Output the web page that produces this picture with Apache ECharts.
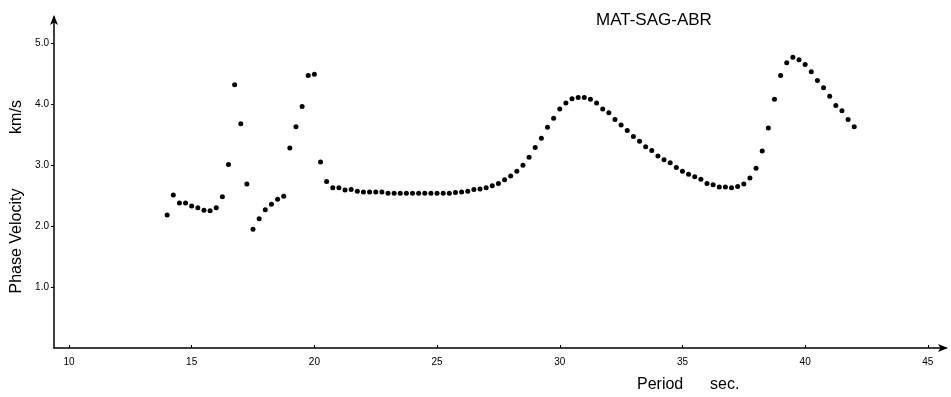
<!DOCTYPE html>
<html>
<head>
<meta charset="utf-8">
<script src="https://cdn.jsdelivr.net/npm/echarts@6/dist/echarts.min.js"></script>
<style>
  html, body { margin: 0; padding: 0; background: #fff; }
  #chart { width: 951px; height: 397px; }
</style>
</head>
<body>
<div id="chart"></div>
<script>
// station pair shown in the top right
const stationLabel = 'MAT-SAG-ABR';

// period (s) of each measured point
const periods = [
  14.00, 14.25, 14.50, 14.75, 15.00, 15.25, 15.50, 15.75, 16.00, 16.25,
  16.50, 16.75, 17.00, 17.25, 17.50, 17.75, 18.00, 18.25, 18.50, 18.75,
  19.00, 19.25, 19.50, 19.75, 20.00, 20.25, 20.50, 20.75, 21.00, 21.25,
  21.50, 21.75, 22.00, 22.25, 22.50, 22.75, 23.00, 23.25, 23.50, 23.75,
  24.00, 24.25, 24.50, 24.75, 25.00, 25.25, 25.50, 25.75, 26.00, 26.25,
  26.50, 26.75, 27.00, 27.25, 27.50, 27.75, 28.00, 28.25, 28.50, 28.75,
  29.00, 29.25, 29.50, 29.75, 30.00, 30.25, 30.50, 30.75, 31.00, 31.25,
  31.50, 31.75, 32.00, 32.25, 32.50, 32.75, 33.00, 33.25, 33.50, 33.75,
  34.00, 34.25, 34.50, 34.75, 35.00, 35.25, 35.50, 35.75, 36.00, 36.25,
  36.50, 36.75, 37.00, 37.25, 37.50, 37.75, 38.00, 38.25, 38.50, 38.75,
  39.00, 39.25, 39.50, 39.75, 40.00, 40.25, 40.50, 40.75, 41.00, 41.25,
  41.50, 41.75, 42.00
];

// phase velocity (km/s)
const velocities = [
  2.18, 2.51, 2.38, 2.38, 2.33, 2.30, 2.26, 2.25, 2.30, 2.48,
  3.01, 4.32, 3.68, 2.69, 1.95, 2.12, 2.27, 2.36, 2.44, 2.49,
  3.28, 3.63, 3.96, 4.47, 4.49, 3.05, 2.73, 2.63, 2.63, 2.59,
  2.60, 2.57, 2.56, 2.56, 2.56, 2.56, 2.54, 2.54, 2.54, 2.54,
  2.54, 2.54, 2.54, 2.54, 2.54, 2.54, 2.54, 2.55, 2.56, 2.57,
  2.60, 2.61, 2.63, 2.66, 2.70, 2.76, 2.82, 2.90, 3.00, 3.13,
  3.29, 3.44, 3.62, 3.77, 3.92, 4.02, 4.09, 4.11, 4.11, 4.08,
  4.02, 3.92, 3.86, 3.75, 3.66, 3.57, 3.47, 3.39, 3.30, 3.24,
  3.15, 3.09, 3.04, 2.96, 2.90, 2.85, 2.81, 2.77, 2.70, 2.68,
  2.64, 2.64, 2.63, 2.65, 2.69, 2.79, 2.95, 3.23, 3.61, 4.08,
  4.47, 4.68, 4.77, 4.73, 4.65, 4.53, 4.39, 4.27, 4.13, 3.98,
  3.89, 3.75, 3.63
];

// tick labels
const xTicks = [10, 15, 20, 25, 30, 35, 40, 45];
const yTicks = [1, 2, 3, 4, 5];

const font = '"Liberation Sans", Arial, sans-serif';
const ink = '#000';

const chart = echarts.init(document.getElementById('chart'), null, { renderer: 'canvas' });

chart.setOption({
  animation: false,
  backgroundColor: '#fff',
  title: {
    text: stationLabel,
    left: 591,
    top: 7,
    textStyle: { color: ink, fontSize: 17, fontWeight: 'normal', fontFamily: font }
  },
  grid: { left: 54, right: 5, top: 17, bottom: 49 },
  xAxis: {
    type: 'value',
    min: 9.389,
    max: 45.74,
    axisLine: {
      lineStyle: { color: ink, width: 1.5 },
      symbol: ['none', 'arrow'],
      symbolSize: [6, 10],
      symbolOffset: [0, 2]
    },
    axisTick: { show: true, inside: true, length: 3, customValues: xTicks, lineStyle: { color: ink } },
    axisLabel: {
      customValues: xTicks,
      color: ink,
      fontSize: 10,
      fontFamily: font,
      margin: 9
    },
    splitLine: { show: false }
  },
  yAxis: {
    type: 'value',
    min: 0,
    max: 5.43,
    axisLine: {
      lineStyle: { color: ink, width: 1.5 },
      symbol: ['none', 'arrow'],
      symbolSize: [6, 10],
      symbolOffset: [0, 2]
    },
    axisTick: { show: true, inside: false, length: 3, customValues: yTicks, lineStyle: { color: ink } },
    axisLabel: {
      customValues: yTicks,
      color: ink,
      fontSize: 10,
      fontFamily: font,
      margin: 5,
      formatter: (v) => v.toFixed(1)
    },
    splitLine: { show: false }
  },
  graphic: [
    {
      type: 'text',
      x: 17, y: 241, rotation: Math.PI / 2,
      style: { text: 'Phase Velocity', fill: ink, font: '16px ' + font, align: 'center', verticalAlign: 'middle' }
    },
    {
      type: 'text',
      x: 17, y: 117, rotation: Math.PI / 2,
      style: { text: 'km/s', fill: ink, font: '16px ' + font, align: 'center', verticalAlign: 'middle' }
    },
    {
      type: 'text',
      x: 637, y: 385,
      style: { text: 'Period', fill: ink, font: '16px ' + font, align: 'left', verticalAlign: 'middle' }
    },
    {
      type: 'text',
      x: 710, y: 385,
      style: { text: 'sec.', fill: ink, font: '16px ' + font, align: 'left', verticalAlign: 'middle' }
    }
  ],
  series: [
    {
      type: 'scatter',
      data: periods.map((p, i) => [p, velocities[i]]),
      symbol: 'circle',
      symbolSize: 5,
      itemStyle: { color: '#000', opacity: 1 }
    }
  ]
});
</script>
</body>
</html>
